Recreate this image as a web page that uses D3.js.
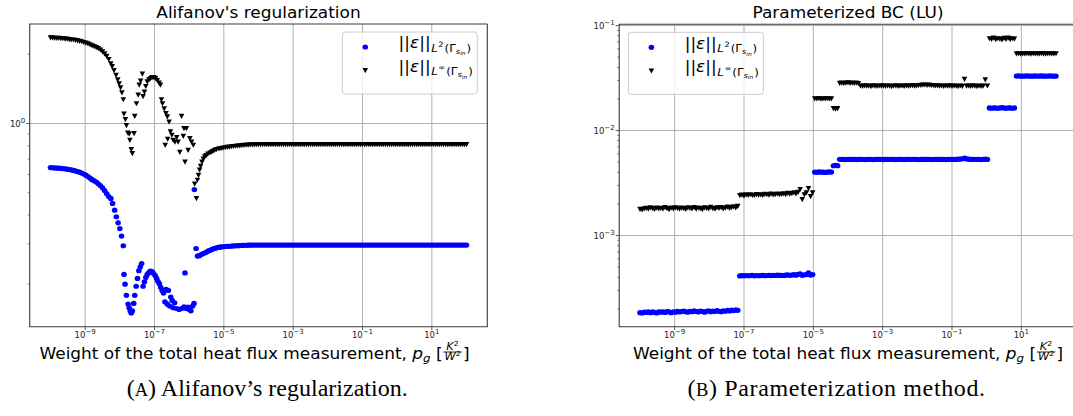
<!DOCTYPE html>
<html><head><meta charset="utf-8">
<script src="https://cdn.jsdelivr.net/npm/d3@7"></script>
<style>html,body{margin:0;padding:0;background:#fff;} svg{display:block;}</style>
</head><body>
<svg id="c" width="1073" height="416"></svg>
<script>
// ---------------- DATA ----------------
// weight p_g, exponents (log10) of the sampled values
const pgExp = [
-10,-9.94,-9.88,-9.82,-9.76,-9.7,-9.64,-9.58,-9.52,-9.46,
-9.4,-9.34,-9.28,-9.22,-9.16,-9.1,-9.04,-8.98,-8.92,-8.86,
-8.8,-8.74,-8.68,-8.62,-8.56,-8.5,-8.44,-8.38,-8.32,-8.26,
-8.2,-8.14,-8.08,-8.02,-7.96,-7.9,-7.84,-7.78,-7.72,-7.66,
-7.6,-7.54,-7.48,-7.42,-7.36,-7.3,-7.24,-7.18,-7.12,-7.06,
-7,-6.94,-6.88,-6.82,-6.76,-6.7,-6.64,-6.58,-6.52,-6.46,
-6.4,-6.34,-6.28,-6.22,-6.16,-6.1,-6.04,-5.98,-5.92,-5.86,
-5.8,-5.74,-5.68,-5.62,-5.56,-5.5,-5.44,-5.38,-5.32,-5.26,
-5.2,-5.14,-5.08,-5.02,-4.96,-4.9,-4.84,-4.78,-4.72,-4.66,
-4.6,-4.54,-4.48,-4.42,-4.36,-4.3,-4.24,-4.18,-4.12,-4.06,
-4,-3.94,-3.88,-3.82,-3.76,-3.7,-3.64,-3.58,-3.52,-3.46,
-3.4,-3.34,-3.28,-3.22,-3.16,-3.1,-3.04,-2.98,-2.92,-2.86,
-2.8,-2.74,-2.68,-2.62,-2.56,-2.5,-2.44,-2.38,-2.32,-2.26,
-2.2,-2.14,-2.08,-2.02,-1.96,-1.9,-1.84,-1.78,-1.72,-1.66,
-1.6,-1.54,-1.48,-1.42,-1.36,-1.3,-1.24,-1.18,-1.12,-1.06,
-1,-0.94,-0.88,-0.82,-0.76,-0.7,-0.64,-0.58,-0.52,-0.46,
-0.4,-0.34,-0.28,-0.22,-0.16,-0.1,-0.04,0.02,0.08,0.14,
0.2,0.26,0.32,0.38,0.44,0.5,0.56,0.62,0.68,0.74,
0.8,0.86,0.92,0.98,1.04,1.1,1.16,1.22,1.28,1.34,
1.4,1.46,1.52,1.58,1.64,1.7,1.76,1.82,1.88,1.94,
2];

// (A) Alifanov's regularization: values on the pgExp grid (null = see the scattered dip arrays)
const alifL2 = [
.643,.642,.641,.640,.639,.638,.637,.635,.633,.631,
.628,.625,.622,.618,.614,.609,.603,.596,.588,.579,
.570,.563,.556,.547,.537,.525,.511,.496,.481,null,
null,null,null,null,null,null,null,null,null,null,
null,null,null,null,null,null,null,null,null,null,
null,null,null,null,null,null,null,null,null,null,
null,null,null,null,null,null,null,null,null,null,
null,null,null,null,null,null,null,null,null,null,
null,null,.2905,.291,.2915,.292,.2925,.293,.2935,.294,
.2943,.2946,.295,.2952,.2954,.2956,.2958,.296,.296,.296,
.296,.296,.296,.296,.296,.296,.296,.296,.296,.296,
.296,.296,.296,.296,.296,.296,.296,.296,.296,.296,
.296,.296,.296,.296,.296,.296,.296,.296,.296,.296,
.296,.296,.296,.296,.296,.296,.296,.296,.296,.296,
.296,.296,.296,.296,.296,.296,.296,.296,.296,.296,
.296,.296,.296,.296,.296,.296,.296,.296,.296,.296,
.296,.296,.296,.296,.296,.296,.296,.296,.296,.296,
.296,.296,.296,.296,.296,.296,.296,.296,.296,.296,
.296,.296,.296,.296,.296,.296,.296,.296,.296,.296,
.296,.296,.296,.296,.296,.296,.296,.296,.296,.296,
.296];
const alifLinf = [
2.36,2.36,2.35,2.35,2.35,2.34,2.34,2.33,2.33,2.32,
2.31,2.31,2.30,2.29,2.28,2.27,2.25,2.24,2.22,2.20,
2.18,2.16,2.14,2.12,2.09,2.05,2.01,1.96,1.90,null,
null,null,null,null,null,null,null,null,null,null,
null,null,null,null,null,null,null,null,null,null,
null,null,null,null,null,null,null,null,null,null,
null,null,null,null,null,null,null,null,null,null,
null,null,null,null,null,null,null,null,null,null,
null,null,.779,.782,.785,.788,.790,.793,.795,.797,
.799,.801,.802,.804,.805,.806,.807,.808,.808,.809,
.809,.809,.810,.810,.810,.810,.810,.810,.810,.810,
.81,.81,.81,.81,.81,.81,.81,.81,.81,.81,
.81,.81,.81,.81,.81,.81,.81,.81,.81,.81,
.81,.81,.81,.81,.81,.81,.81,.81,.81,.81,
.81,.81,.81,.81,.81,.81,.81,.81,.81,.81,
.81,.81,.81,.81,.81,.81,.81,.81,.81,.81,
.81,.81,.81,.81,.81,.81,.81,.81,.81,.81,
.81,.81,.81,.81,.81,.81,.81,.81,.81,.81,
.81,.81,.81,.81,.81,.81,.81,.81,.81,.81,
.81,.81,.81,.81,.81,.81,.81,.81,.81,.81,
.81];
// scattered points of the unstable range: [log10(p_g), value]
const alifL2Dip = [
[-8.26,.472],[-8.21,.449],[-8.15,.420],[-8.10,.393],[-8.05,.370],[-8.00,.349],[-7.95,.324],[-7.90,.294],
[-7.88,.2205],[-7.85,.200],[-7.81,.179],[-7.76,.164],[-7.73,.158],[-7.70,.153],[-7.67,.150],[-7.64,.153],
[-7.60,.165],[-7.57,.179],[-7.53,.196],[-7.49,.212],[-7.45,.229],[-7.41,.238],[-7.37,.246],
[-7.33,.196],[-7.29,.205],[-7.25,.214],[-7.21,.2205],[-7.16,.225],[-7.12,.228],[-7.07,.227],[-7.03,.223],
[-6.98,.218],[-6.94,.212],[-6.90,.206],[-6.86,.201],[-6.82,.194],[-6.78,.188],[-6.74,.183],
[-6.70,.1676],[-6.67,.190],[-6.63,.1637],[-6.60,.188],[-6.56,.1606],[-6.53,.176],[-6.49,.170],[-6.46,.158],
[-6.42,.166],[-6.36,.1568],[-6.29,.1553],[-6.22,.1568],[-6.15,.1595],[-6.12,.224],[-6.08,.1568],[-6.04,.159],
[-6.00,.1553],[-5.95,.1532],[-5.90,.1606],[-5.86,.165],[-5.85,.516],
[-5.80,.286],[-5.76,.265],[-5.72,.266],[-5.69,.267],[-5.64,.270],[-5.59,.272],[-5.54,.274],[-5.50,.276],
[-5.45,.279],[-5.40,.281],[-5.35,.283],[-5.31,.285],[-5.26,.2865],[-5.21,.288],[-5.16,.289],[-5.11,.290]
];
const alifLinfDip = [
[-8.26,1.82],[-8.22,1.77],[-8.17,1.70],[-8.11,1.62],[-8.06,1.55],[-8.02,1.49],[-7.98,1.43],[-7.94,1.36],[-7.90,1.27],
[-7.88,1.10],[-7.84,1.04],[-7.81,0.98],[-7.77,0.91],[-7.73,0.90],[-7.71,0.846],[-7.67,0.77],[-7.64,0.74],
[-7.59,0.905],[-7.57,1.076],[-7.52,1.22],[-7.47,1.33],[-7.44,1.47],[-7.40,1.53],[-7.35,1.64],
[-7.33,1.31],[-7.29,1.37],[-7.25,1.45],[-7.21,1.52],[-7.16,1.55],[-7.11,1.57],[-7.07,1.585],[-7.02,1.585],
[-6.97,1.57],[-6.92,1.54],[-6.87,1.50],[-6.83,1.47],
[-6.80,1.27],[-6.77,1.22],[-6.72,1.16],[-6.67,1.105],[-6.63,1.07],[-6.58,1.016],[-6.54,0.92],[-6.50,0.89],
[-6.69,0.805],[-6.62,0.855],[-6.46,0.846],[-6.41,0.83],[-6.36,0.87],[-6.32,0.83],[-6.27,0.75],[-6.22,1.076],
[-6.17,0.88],[-6.15,0.95],[-6.12,0.68],[-6.08,0.95],[-6.03,0.765],[-5.98,0.86],[-5.93,0.83],[-5.88,0.805],
[-5.84,0.545],[-5.79,0.472],[-5.76,0.567],[-5.73,0.596],[-5.70,0.627],[-5.67,0.652],[-5.63,0.68],[-5.59,0.70],
[-5.55,0.716],[-5.51,0.726],[-5.46,0.736],[-5.40,0.745],[-5.35,0.752],[-5.31,0.758],[-5.26,0.765],[-5.21,0.771],[-5.14,0.776]
];

// (B) Parameterized BC (LU): values on the pgExp grid
const bcL2 = [
1.84e-4,1.83e-4,1.86e-4,1.85e-4,1.88e-4,1.84e-4,1.87e-4,1.85e-4,1.83e-4,1.87e-4,
1.86e-4,1.88e-4,1.85e-4,1.89e-4,1.87e-4,1.84e-4,1.88e-4,1.86e-4,1.90e-4,1.87e-4,
1.89e-4,1.91e-4,1.88e-4,1.86e-4,1.90e-4,1.88e-4,1.92e-4,1.89e-4,1.87e-4,1.91e-4,
1.89e-4,1.86e-4,1.90e-4,1.92e-4,1.88e-4,1.91e-4,1.89e-4,1.93e-4,1.90e-4,1.88e-4,
1.92e-4,1.90e-4,1.94e-4,1.91e-4,1.95e-4,1.93e-4,1.96e-4,1.94e-4,4.12e-4,4.15e-4,
4.13e-4,4.16e-4,4.14e-4,4.15e-4,4.17e-4,4.13e-4,4.16e-4,4.14e-4,4.15e-4,4.17e-4,
4.14e-4,4.16e-4,4.18e-4,4.15e-4,4.17e-4,4.16e-4,4.19e-4,4.17e-4,4.18e-4,4.16e-4,
4.19e-4,4.21e-4,4.18e-4,4.20e-4,4.24e-4,4.19e-4,4.26e-4,4.32e-4,4.18e-4,4.22e-4,
4.25e-4,4.40e-4,4.20e-4,4.25e-4,4.02e-3,4.00e-3,4.03e-3,4.01e-3,4.02e-3,4.00e-3,
4.01e-3,4.03e-3,4.02e-3,4.62e-3,4.65e-3,4.63e-3,5.32e-3,5.30e-3,5.31e-3,5.29e-3,
5.30e-3,5.31e-3,5.30e-3,5.32e-3,5.29e-3,5.30e-3,5.30e-3,5.31e-3,5.29e-3,5.30e-3,
5.32e-3,5.30e-3,5.29e-3,5.31e-3,5.30e-3,5.30e-3,5.31e-3,5.29e-3,5.30e-3,5.30e-3,
5.32e-3,5.30e-3,5.31e-3,5.29e-3,5.30e-3,5.31e-3,5.30e-3,5.29e-3,5.31e-3,5.30e-3,
5.30e-3,5.32e-3,5.31e-3,5.30e-3,5.29e-3,5.31e-3,5.30e-3,5.32e-3,5.31e-3,5.30e-3,
5.29e-3,5.31e-3,5.30e-3,5.30e-3,5.32e-3,5.31e-3,5.30e-3,5.29e-3,5.31e-3,5.30e-3,
5.32e-3,5.30e-3,5.31e-3,5.33e-3,5.35e-3,5.38e-3,5.45e-3,5.36e-3,5.33e-3,5.31e-3,
5.30e-3,5.32e-3,5.30e-3,5.31e-3,5.29e-3,5.32e-3,5.34e-3,5.31e-3,1.64e-2,1.63e-2,
1.64e-2,1.64e-2,1.63e-2,1.64e-2,1.65e-2,1.64e-2,1.63e-2,1.64e-2,1.64e-2,1.63e-2,
1.64e-2,3.30e-2,3.31e-2,3.30e-2,3.29e-2,3.30e-2,3.31e-2,3.30e-2,3.30e-2,3.29e-2,
3.31e-2,3.30e-2,3.30e-2,3.31e-2,3.29e-2,3.30e-2,3.30e-2,3.31e-2,3.30e-2,3.29e-2,
3.30e-2];
const bcLinf = [
1.78e-3,1.76e-3,1.80e-3,1.82e-3,1.79e-3,1.84e-3,1.81e-3,1.78e-3,1.83e-3,1.80e-3,
1.82e-3,1.79e-3,1.85e-3,1.81e-3,1.77e-3,1.83e-3,1.80e-3,1.84e-3,1.82e-3,1.79e-3,
1.83e-3,1.81e-3,1.78e-3,1.84e-3,1.82e-3,1.80e-3,1.85e-3,1.79e-3,1.83e-3,1.81e-3,
1.77e-3,1.84e-3,1.82e-3,1.80e-3,1.86e-3,1.81e-3,1.79e-3,1.84e-3,1.82e-3,1.85e-3,
1.80e-3,1.83e-3,1.87e-3,1.82e-3,1.85e-3,1.88e-3,1.84e-3,1.90e-3,2.40e-3,2.43e-3,
2.38e-3,2.44e-3,2.41e-3,2.45e-3,2.42e-3,2.40e-3,2.46e-3,2.43e-3,2.44e-3,2.41e-3,
2.47e-3,2.45e-3,2.43e-3,2.48e-3,2.44e-3,2.46e-3,2.49e-3,2.45e-3,2.47e-3,2.50e-3,
2.46e-3,2.52e-3,2.48e-3,2.51e-3,2.55e-3,2.50e-3,2.58e-3,2.75e-3,2.20e-3,2.45e-3,
2.55e-3,2.80e-3,2.35e-3,2.55e-3,2.01e-2,2.00e-2,2.02e-2,1.99e-2,2.01e-2,2.00e-2,
2.02e-2,2.00e-2,2.01e-2,1.62e-2,1.60e-2,1.62e-2,2.82e-2,2.84e-2,2.81e-2,2.83e-2,
2.85e-2,2.82e-2,2.84e-2,2.81e-2,2.83e-2,2.80e-2,2.66e-2,2.64e-2,2.67e-2,2.65e-2,
2.66e-2,2.63e-2,2.67e-2,2.65e-2,2.64e-2,2.66e-2,2.65e-2,2.67e-2,2.64e-2,2.66e-2,
2.65e-2,2.63e-2,2.66e-2,2.67e-2,2.64e-2,2.65e-2,2.66e-2,2.64e-2,2.67e-2,2.65e-2,
2.66e-2,2.68e-2,2.65e-2,2.67e-2,2.69e-2,2.70e-2,2.71e-2,2.72e-2,2.70e-2,2.71e-2,
2.69e-2,2.68e-2,2.66e-2,2.67e-2,2.65e-2,2.66e-2,2.64e-2,2.66e-2,2.65e-2,2.67e-2,
2.64e-2,2.66e-2,2.65e-2,2.63e-2,2.66e-2,2.64e-2,3.08e-2,2.65e-2,2.66e-2,2.64e-2,
2.67e-2,2.65e-2,2.63e-2,2.66e-2,2.64e-2,2.65e-2,3.05e-2,2.66e-2,7.50e-2,7.40e-2,
7.60e-2,7.35e-2,7.50e-2,7.45e-2,7.30e-2,7.55e-2,7.40e-2,7.60e-2,7.35e-2,7.50e-2,
7.45e-2,5.38e-2,5.40e-2,5.36e-2,5.39e-2,5.37e-2,5.41e-2,5.38e-2,5.36e-2,5.40e-2,
5.38e-2,5.37e-2,5.39e-2,5.41e-2,5.38e-2,5.36e-2,5.40e-2,5.38e-2,5.39e-2,5.37e-2,
5.40e-2];

// ticks & texts
const xTickExp = [-9, -7, -5, -3, -1, 1];
const alifYTickExp = [0];
const alifYMinor = [0.2, 0.3, 0.4, 0.5, 0.6, 0.7, 0.8, 0.9, 2];
const bcYTickExp = [-3, -2, -1];
const bcYMinor = [2e-4,3e-4,4e-4,5e-4,6e-4,7e-4,8e-4,9e-4,2e-3,3e-3,4e-3,5e-3,6e-3,7e-3,8e-3,9e-3,2e-2,3e-2,4e-2,5e-2,6e-2,7e-2,8e-2,9e-2];
const titles = ["Alifanov's regularization", "Parameterized BC (LU)"];
const captions = [["A", ") Alifanov\u2019s regularization."], ["B", ") Parameterization method."]];
const seriesSup = ["2", "\u221e"];
const xLabelText = "Weight of the total heat flux measurement,";

// ---------------- DRAWING ----------------
[pgExp, alifL2, alifLinf, bcL2, bcLinf].forEach(a => { if (a.length !== pgExp.length) throw new Error('length ' + a.length); });

const SANS = "'DejaVu Sans', sans-serif";
const SERIF = "'Liberation Serif', serif";
const STRETCH = 1.13;   // the embedded figure is slightly widened horizontally
const svg = d3.select('#c');
svg.append('rect').attr('width', 1073).attr('height', 416).attr('fill', '#fff');

function pts(vals, dip) {
  const out = [];
  pgExp.forEach((e, i) => { if (vals[i] != null) out.push([Math.pow(10, e), vals[i]]); });
  (dip || []).forEach(([e, v]) => out.push([Math.pow(10, e), v]));
  return out;
}
function padLog(vals) {
  const lo = Math.log10(d3.min(vals)), hi = Math.log10(d3.max(vals));
  const p = (hi - lo) * 0.05;
  return [Math.pow(10, lo - p), Math.pow(10, hi + p)];
}
function stretchAbout(sel, ax, s) {
  sel.attr('transform', `translate(${ax},0) scale(${s},1) translate(${-ax},0)`);
}
const xDomain = padLog(pgExp.map(e => Math.pow(10, e)));

const panels = [
  { rect: {l: 29.7, r: 487.3, t: 24, b: 326.7}, title: titles[0], xlShift: -4,
    series: [{p: pts(alifL2, alifL2Dip), color: '#0000ff', shape: 'o'}, {p: pts(alifLinf, alifLinfDip), color: '#000', shape: 'v'}],
    yTicks: alifYTickExp, yMinor: alifYMinor, legendSide: 'right', capX: 126.7, capW: 281, cap: captions[0] },
  { rect: {l: 619.2, r: 1076.8, t: 24.3, b: 326.7}, title: titles[1], xlShift: 0,
    series: [{p: pts(bcL2), color: '#0000ff', shape: 'o'}, {p: pts(bcLinf), color: '#000', shape: 'v'}],
    yTicks: bcYTickExp, yMinor: bcYMinor, legendSide: 'left', capX: 687.5, capW: 297.5, cap: captions[1] }
];

const triPath = 'M-2.8,-2.5L2.8,-2.5L0,2.7Z';

function drawMarker(sel, shape, color, x, y) {
  if (shape === 'o') sel.append('ellipse').attr('cx', x).attr('cy', y).attr('rx', 2.8).attr('ry', 2.6).attr('fill', color);
  else sel.append('path').attr('d', triPath).attr('transform', `translate(${x},${y})`).attr('fill', color);
}

function supLabel(sel, base, sup, ss) {
  sel.append('tspan').text(base);
  sel.append('tspan').attr('font-size', ss).attr('dy', -4).text(sup);
}

function normText(t, sup) {
  t.append('tspan').text('||');
  t.append('tspan').attr('font-style', 'italic').text('\u03b5');
  t.append('tspan').text('||');
  t.append('tspan').attr('font-size', 10.5).attr('font-style', 'italic').attr('dy', 3.5).attr('dx', 0.6).text('L');
  t.append('tspan').attr('font-size', 7.4).attr('dy', -5).attr('dx', 0.4).text(sup);
  t.append('tspan').attr('font-size', 10.5).attr('dy', 5).attr('dx', 0.8).text('(\u0393');
  t.append('tspan').attr('font-size', 7.4).attr('font-style', 'italic').attr('dy', 2.2).text('s');
  t.append('tspan').attr('font-size', 5.3).attr('font-style', 'italic').attr('dy', 1.4).text('in');
  t.append('tspan').attr('font-size', 10.5).attr('dy', -3.6).attr('dx', 0.8).text(')');
}

panels.forEach((P, pi) => {
  const R = P.rect;
  const x = d3.scaleLog().domain(xDomain).range([R.l, R.r]);
  const allY = P.series.flatMap(s => s.p.map(d => d[1]));
  const y = d3.scaleLog().domain(padLog(allY)).range([R.b, R.t]);
  const g = svg.append('g').attr('font-family', SANS);
  const clipId = 'clip' + pi;
  g.append('clipPath').attr('id', clipId).append('rect')
    .attr('x', R.l).attr('y', R.t).attr('width', R.r - R.l).attr('height', R.b - R.t);

  // grid
  const grid = g.append('g').attr('stroke', '#b0b0b0').attr('stroke-width', 1);
  xTickExp.forEach(e => grid.append('line').attr('x1', x(Math.pow(10, e))).attr('x2', x(Math.pow(10, e))).attr('y1', R.t).attr('y2', R.b));
  P.yTicks.forEach(e => grid.append('line').attr('y1', y(Math.pow(10, e))).attr('y2', y(Math.pow(10, e))).attr('x1', R.l).attr('x2', R.r));

  // markers
  const mk = g.append('g').attr('clip-path', `url(#${clipId})`);
  P.series.forEach(s => s.p.forEach(d => drawMarker(mk, s.shape, s.color, x(d[0]), y(d[1]))));

  // spines
  const sp = g.append('g').attr('stroke', '#3a3a3a').attr('stroke-width', 1.1).attr('fill', 'none');
  sp.append('path').attr('d', `M${R.r},${R.t}H${R.l}V${R.b}H${R.r}V${R.t}`);

  // ticks
  const tk = g.append('g').attr('stroke', '#333').attr('stroke-width', 0.8);
  xTickExp.forEach(e => { const xx = x(Math.pow(10, e)); tk.append('line').attr('x1', xx).attr('x2', xx).attr('y1', R.b).attr('y2', R.b + 3.5); });
  P.yTicks.forEach(e => { const yy = y(Math.pow(10, e)); tk.append('line').attr('y1', yy).attr('y2', yy).attr('x1', R.l).attr('x2', R.l - 3.5); });
  P.yMinor.forEach(v => { const yy = y(v); if (yy >= R.t && yy <= R.b) tk.append('line').attr('y1', yy).attr('y2', yy).attr('x1', R.l).attr('x2', R.l - 2).attr('stroke-width', 0.6); });

  // tick labels
  xTickExp.forEach(e => {
    const t = g.append('text').attr('x', x(Math.pow(10, e))).attr('y', R.b + 11).attr('text-anchor', 'middle').attr('font-size', 8.5).attr('fill', '#222');
    supLabel(t, '10', (e < 0 ? '\u2212' : '') + Math.abs(e), 7);
  });
  P.yTicks.forEach(e => {
    const t = g.append('text').attr('x', R.l - 4.5).attr('y', y(Math.pow(10, e)) + 3.3).attr('text-anchor', 'end').attr('font-size', 8.5).attr('fill', '#222');
    supLabel(t, '10', (e < 0 ? '\u2212' : '') + Math.abs(e), 7);
  });

  // title
  const cx = (R.l + R.r) / 2;
  const tt = g.append('text').attr('x', cx).attr('y', 18).attr('text-anchor', 'middle').attr('font-size', 15).text(P.title);
  stretchAbout(tt, cx, STRETCH);

  // legend
  const lw = 135, lh = 62;
  const lx = P.legendSide === 'right' ? R.r - 10 - lw : R.l + 9.2;
  const ly = R.t + 8;
  g.append('rect').attr('x', lx).attr('y', ly).attr('width', lw).attr('height', lh).attr('rx', 3)
    .attr('fill', '#fff').attr('fill-opacity', 0.8).attr('stroke', '#cccccc').attr('stroke-width', 1);
  P.series.forEach((s, si) => {
    const my = ly + 15 + si * 23.6;
    drawMarker(g, s.shape, s.color, lx + 23, my);
    const tx = lx + 56.3;
    const t = g.append('text').attr('x', tx).attr('y', ly + 16.4 + si * 23.4).attr('font-size', 15);
    normText(t, seriesSup[si]);
    stretchAbout(t, tx, STRETCH);
  });

  // x label (natural flow, then centred and widened)
  const base = 359;
  const xl = g.append('g');
  const t1 = xl.append('text').attr('x', 0).attr('y', base).attr('font-size', 15);
  t1.append('tspan').text(xLabelText + ' ');
  t1.append('tspan').attr('font-style', 'italic').text('p');
  t1.append('tspan').attr('font-style', 'italic').attr('font-size', 10.5).attr('dy', 3).text('g');
  t1.append('tspan').attr('dy', -3).text('\u00a0[');
  const w1 = t1.node().getComputedTextLength();
  const num = xl.append('text').attr('y', 349.8).attr('text-anchor', 'middle').attr('font-size', 10);
  num.append('tspan').attr('font-style', 'italic').text('K');
  num.append('tspan').attr('font-size', 7).attr('dy', -3.5).text('2');
  const den = xl.append('text').attr('y', base + 1).attr('text-anchor', 'middle').attr('font-size', 10);
  den.append('tspan').attr('font-style', 'italic').text('W');
  den.append('tspan').attr('font-size', 7).attr('dy', -3.5).text('2');
  const fw = Math.max(num.node().getComputedTextLength(), den.node().getComputedTextLength()) + 2;
  num.attr('x', w1 + 0.5 + fw / 2);
  den.attr('x', w1 + 0.5 + fw / 2);
  xl.append('line').attr('x1', w1 + 0.5).attr('x2', w1 + 0.5 + fw).attr('y1', 352).attr('y2', 352).attr('stroke', '#000').attr('stroke-width', 0.8);
  const br = xl.append('text').attr('x', w1 + fw + 1.5).attr('y', base).attr('font-size', 15).text(']');
  const W = w1 + fw + 1.5 + br.node().getComputedTextLength();
  xl.attr('transform', `translate(${cx + P.xlShift - STRETCH * W / 2},0) scale(${STRETCH},1)`);

  // caption (LaTeX subcaption)
  const cap = svg.append('text').attr('x', P.capX).attr('y', 396).attr('font-family', SERIF).attr('font-size', 24)
    .attr('textLength', P.capW).attr('lengthAdjust', 'spacing');
  cap.append('tspan').text('(');
  cap.append('tspan').attr('font-size', 18.5).text(P.cap[0]);
  cap.append('tspan').text(P.cap[1]);
});
</script>
</body></html>
